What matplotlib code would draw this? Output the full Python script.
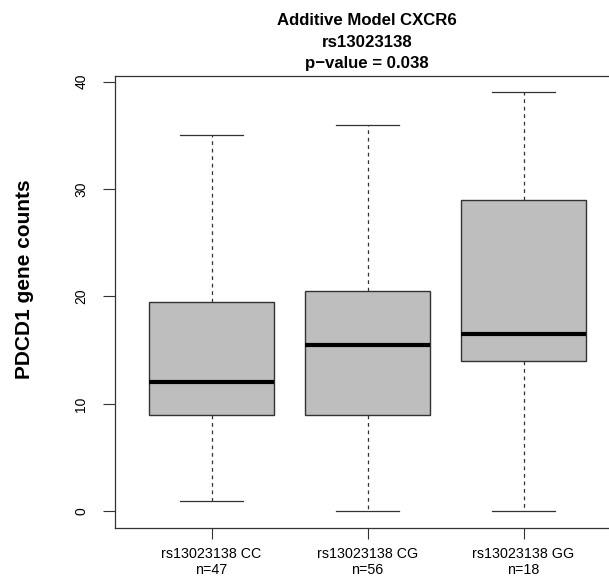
import matplotlib
matplotlib.use("Agg")
import matplotlib.pyplot as plt

plt.rcParams['font.family'] = ['Liberation Sans', 'DejaVu Sans']

# valeurs
genotypes = ['rs13023138 CC', 'rs13023138 CG', 'rs13023138 GG']
counts_n = [47, 56, 18]
whislo = [1, 0, 0]
q1 = [9, 9, 14]
med = [12, 15.5, 16.5]
q3 = [19.5, 20.5, 29]
whishi = [35, 36, 39]

stats = []
for i in range(len(genotypes)):
    stats.append(dict(whislo=whislo[i], q1=q1[i], med=med[i], q3=q3[i],
                      whishi=whishi[i], fliers=[]))

fig = plt.figure(figsize=(6.09, 5.78), dpi=100)
ax = fig.add_axes([0.1885, 0.0865, 0.83, 0.7825])

ax.bxp(stats, positions=[1, 2, 3], widths=0.8, patch_artist=True,
       showfliers=False,
       boxprops=dict(facecolor='#bebebe', edgecolor='#333333', linewidth=1.0),
       medianprops=dict(color='black', linewidth=3),
       whiskerprops=dict(color='#333333', linewidth=0.9, linestyle=(0, (3, 3))),
       capprops=dict(color='#333333', linewidth=0.9),
       capwidths=0.4)

ax.set_xlim(0.38, 3.62)
ax.set_ylim(-1.56, 40.56)
ax.set_yticks([0, 10, 20, 30, 40])
ax.set_xticks([1, 2, 3])
ax.set_xticklabels([g + '\nn=' + str(n) for g, n in zip(genotypes, counts_n)],
                   fontsize=10.3, linespacing=1.1)
ax.tick_params(axis='x', length=8, pad=6, color='#333333')
ax.tick_params(axis='y', length=9, pad=10, color='#333333', labelsize=10)
for lab in ax.get_yticklabels():
    lab.set_rotation(90)
    lab.set_va('center')
for s in ax.spines.values():
    s.set_color('#333333')
    s.set_linewidth(0.9)
ax.spines['right'].set_visible(False)

fig.text(0.0395, 0.517, 'PDCD1 gene counts', rotation=90, fontsize=15,
         fontweight='bold', ha='center', va='center')
fig.text(0.6026, 0.9567, 'Additive Model CXCR6', fontsize=12.1,
         fontweight='bold', ha='center', va='baseline')
fig.text(0.6026, 0.9187, 'rs13023138', fontsize=12.1,
         fontweight='bold', ha='center', va='baseline')
fig.text(0.6026, 0.8824, 'p\u2212value = 0.038', fontsize=12.1,
         fontweight='bold', ha='center', va='baseline')

fig.savefig('out.png', dpi=100)
